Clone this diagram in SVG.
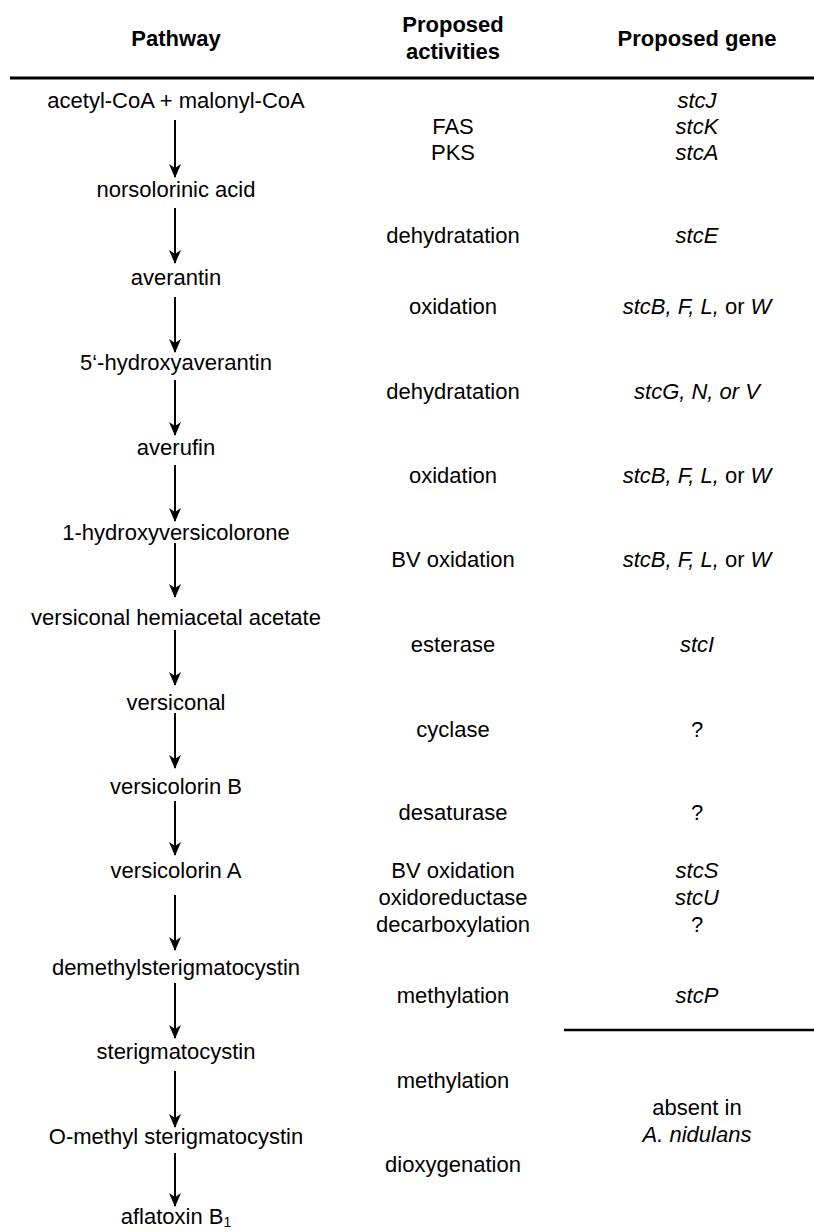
<svg xmlns="http://www.w3.org/2000/svg" width="814" height="1232" viewBox="0 0 814 1232">
<style>
text{font-family:"Liberation Sans",Arial,sans-serif;font-size:22px;fill:#000;text-anchor:middle}
.h{font-weight:bold}
.i{font-style:italic}
.n{font-style:normal}
.rule{stroke:#000;stroke-width:3}
.arr{stroke:#000;stroke-width:2;fill:none;marker-end:url(#ah)}
</style>
<defs>
<marker id="ah" viewBox="0 0 14 12" refX="13" refY="6" markerWidth="14" markerHeight="12" markerUnits="userSpaceOnUse" orient="auto">
<path d="M0,0 L14,6 L0,12 L4,6 z" fill="#000"/>
</marker>
</defs>
<rect width="814" height="1232" fill="#fff"/>
<g id="header">
<text class="h" x="176" y="46">Pathway</text>
<text class="h" x="453" y="32">Proposed</text>
<text class="h" x="453" y="59">activities</text>
<text class="h" x="697" y="46">Proposed gene</text>
<line class="rule" x1="10" y1="78" x2="814" y2="78"/>
<line class="rule" x1="564" y1="1030" x2="814" y2="1030" style="stroke-width:2.5"/>
</g>
<g id="connectors">
<line class="arr" x1="175" y1="120" x2="175" y2="177"/>
<line class="arr" x1="175" y1="208" x2="175" y2="263"/>
<line class="arr" x1="175" y1="297" x2="175" y2="352"/>
<line class="arr" x1="175" y1="380" x2="175" y2="435"/>
<line class="arr" x1="175" y1="465" x2="175" y2="521"/>
<line class="arr" x1="175" y1="543" x2="175" y2="597"/>
<line class="arr" x1="175" y1="630" x2="175" y2="685"/>
<line class="arr" x1="175" y1="713" x2="175" y2="768"/>
<line class="arr" x1="175" y1="801" x2="175" y2="855"/>
<line class="arr" x1="175" y1="895" x2="175" y2="950"/>
<line class="arr" x1="175" y1="983" x2="175" y2="1038"/>
<line class="arr" x1="175" y1="1071" x2="175" y2="1127"/>
<line class="arr" x1="175" y1="1153" x2="175" y2="1206"/>
</g>
<g id="pathway">
<g id="n-acetyl"><text x="176" y="108">acetyl-CoA + malonyl-CoA</text></g>
<g id="n-norsolorinic"><text x="176" y="197">norsolorinic acid</text></g>
<g id="n-averantin"><text x="176" y="285">averantin</text></g>
<g id="n-hydroxyaverantin"><text x="176" y="370">5‘-hydroxyaverantin</text></g>
<g id="n-averufin"><text x="176" y="455">averufin</text></g>
<g id="n-hydroxyversicolorone"><text x="176" y="540">1-hydroxyversicolorone</text></g>
<g id="n-vha"><text x="176" y="625">versiconal hemiacetal acetate</text></g>
<g id="n-versiconal"><text x="176" y="710">versiconal</text></g>
<g id="n-versicolorinB"><text x="176" y="794">versicolorin B</text></g>
<g id="n-versicolorinA"><text x="176" y="878">versicolorin A</text></g>
<g id="n-demethyl"><text x="176" y="975">demethylsterigmatocystin</text></g>
<g id="n-sterig"><text x="176" y="1059">sterigmatocystin</text></g>
<g id="n-omethyl"><text x="176" y="1144">O-methyl sterigmatocystin</text></g>
<g id="n-aflatoxin"><text x="176" y="1224">aflatoxin B<tspan font-size="14" dy="3">1</tspan></text></g>
</g>
<g id="activities">
<text x="453" y="134">FAS</text>
<text x="453" y="160">PKS</text>
<text x="453" y="243">dehydratation</text>
<text x="453" y="314">oxidation</text>
<text x="453" y="399">dehydratation</text>
<text x="453" y="483">oxidation</text>
<text x="453" y="567">BV oxidation</text>
<text x="453" y="652">esterase</text>
<text x="453" y="737">cyclase</text>
<text x="453" y="820">desaturase</text>
<text x="453" y="878">BV oxidation</text>
<text x="453" y="905">oxidoreductase</text>
<text x="453" y="932">decarboxylation</text>
<text x="453" y="1003">methylation</text>
<text x="453" y="1088">methylation</text>
<text x="453" y="1172">dioxygenation</text>
</g>
<g id="genes">
<text class="i" x="697" y="108">stcJ</text>
<text class="i" x="697" y="134">stcK</text>
<text class="i" x="697" y="160">stcA</text>
<text class="i" x="697" y="243">stcE</text>
<text class="i" x="697" y="314">stcB, F, L,<tspan class="n"> or </tspan>W</text>
<text class="i" x="697" y="399">stcG, N, or V</text>
<text class="i" x="697" y="483">stcB, F, L,<tspan class="n"> or </tspan>W</text>
<text class="i" x="697" y="567">stcB, F, L,<tspan class="n"> or </tspan>W</text>
<text class="i" x="697" y="652">stcI</text>
<text x="697" y="737">?</text>
<text x="697" y="820">?</text>
<text class="i" x="697" y="878">stcS</text>
<text class="i" x="697" y="905">stcU</text>
<text x="697" y="932">?</text>
<text class="i" x="697" y="1003">stcP</text>
<text x="697" y="1115">absent in</text>
<text class="i" x="697" y="1142">A. nidulans</text>
</g>
</svg>
